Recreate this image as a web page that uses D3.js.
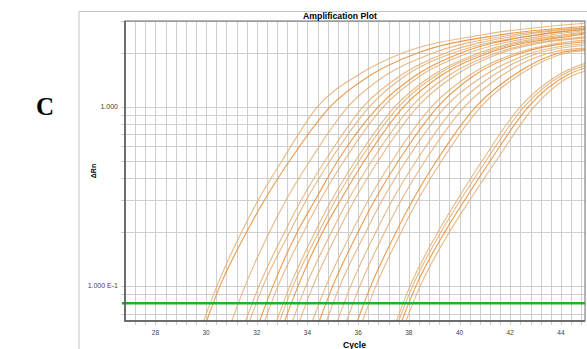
<!DOCTYPE html>
<html>
<head>
<meta charset="utf-8">
<script src="https://cdn.jsdelivr.net/npm/d3@7"></script>
<style>
  body { margin: 0; background: #fff; }
  svg { display: block; }
</style>
</head>
<body>
<div id="chart"></div>
<script>
// delta Rn levels (horizontal gridlines) at which each curve was read
const levels = [0.05, 0.1, 0.2, 0.3, 0.5, 1, 1.5, 2, 2.5];

// cycle at which each curve crosses the levels above, plus its delta Rn at cycle 45
const crossings = [
  [29.63, 30.43, 31.4, 32.05, 33.0, 34.4, 36.0, 37.8, 40.8],
  [29.75, 30.55, 31.6, 32.3, 33.3, 34.9, 36.5, 38.4, 41.5],
  [30.74, 31.54, 32.5, 33.15, 34.1, 35.6, 37.1, 39.0, 42.0],
  [31.29, 32.09, 33.1, 33.75, 34.7, 36.2, 37.7, 39.5, 42.4],
  [31.45, 32.25, 33.3, 33.95, 34.9, 36.45, 37.9, 39.8, 42.9],
  [31.84, 32.64, 33.6, 34.3, 35.2, 36.8, 38.3, 40.1, 43.0],
  [32.04, 32.84, 33.85, 34.5, 35.45, 37.0, 38.5, 40.4, 43.5],
  [32.51, 33.31, 34.3, 34.95, 35.9, 37.45, 38.95, 40.8, 44.0],
  [32.63, 33.43, 34.45, 35.1, 36.05, 37.6, 39.1, 41.0, 44.3],
  [32.83, 33.63, 34.6, 35.3, 36.25, 37.8, 39.3, 41.2, 44.6],
  [33.14, 33.94, 34.95, 35.6, 36.55, 38.1, 39.6, 41.5],
  [33.42, 34.22, 35.2, 35.85, 36.8, 38.35, 39.85, 41.7],
  [33.93, 34.73, 35.75, 36.4, 37.35, 38.9, 40.4, 42.3],
  [34.2, 35.0, 36.0, 36.65, 37.6, 39.15, 40.6, 42.5],
  [34.48, 35.28, 36.3, 36.95, 37.9, 39.45, 41.0, 42.9],
  [34.91, 35.71, 36.7, 37.35, 38.3, 39.85, 41.35, 43.2],
  [35.27, 36.07, 37.05, 37.7, 38.65, 40.2, 41.7, 43.6],
  [35.7, 36.5, 37.5, 38.15, 39.1, 40.65, 42.15, 44.0],
  [35.9, 36.7, 37.7, 38.35, 39.3, 40.85, 42.35, 44.3],
  [37.24, 38.05, 39.15, 39.9, 40.9, 42.4, 43.9],
  [37.32, 38.15, 39.27, 40.03, 41.05, 42.55, 44.05],
  [37.44, 38.28, 39.42, 40.2, 41.22, 42.72, 44.25],
  [37.6, 38.45, 39.6, 40.4, 41.45, 42.95, 44.5]
];
const endValues = [2.92, 2.8, 2.75, 2.75, 2.7, 2.7, 2.65, 2.6, 2.58, 2.55, 2.45, 2.42,
  2.35, 2.3, 2.25, 2.2, 2.12, 2.08, 2.05, 1.75, 1.7, 1.65, 1.58];

const threshold = 0.08;
const xTicks = [28, 30, 32, 34, 36, 38, 40, 42, 44];
const yTicks = [1, 0.1];
const yTickLabels = ['1.000', '1.000 E-1'];
const yGrid = [0.07, 0.08, 0.09, 0.1, 0.2, 0.3, 0.4, 0.5, 0.6, 0.7, 0.8, 0.9, 1, 2, 3];
const xGridStep = 0.4;

const width = 587, height = 349;
const plot = { left: 125, right: 585, top: 21, bottom: 321 };

const svg = d3.select('#chart')
  .append('svg')
  .attr('width', width)
  .attr('height', height);

// outer panel frame
svg.append('path')
  .attr('d', 'M79,349V11.5H587')
  .attr('fill', 'none')
  .attr('stroke', '#c4c4c4')
  .attr('stroke-width', 1);

const x = d3.scaleLinear()
  .domain([26.8, 44.95])
  .range([plot.left, plot.right]);

const y = d3.scaleLog()
  .domain([0.0637, 3])
  .range([plot.bottom, plot.top]);

// gridlines
const xGrid = d3.range(27.2, 44.95, xGridStep);
svg.append('g')
  .selectAll('line')
  .data(xGrid)
  .enter()
  .append('line')
  .attr('x1', d => Math.round(x(d)) + 0.5)
  .attr('x2', d => Math.round(x(d)) + 0.5)
  .attr('y1', plot.top)
  .attr('y2', plot.bottom + 4)
  .attr('stroke', '#cfcfcf');

svg.append('g')
  .selectAll('line')
  .data(yGrid)
  .enter()
  .append('line')
  .attr('x1', plot.left - 4)
  .attr('x2', plot.right)
  .attr('y1', d => Math.round(y(d)) + 0.5)
  .attr('y2', d => Math.round(y(d)) + 0.5)
  .attr('stroke', '#cfcfcf');

// amplification curves
const curves = crossings.map((c, i) => {
  const pts = c.map((cy, j) => [cy, levels[j]]);
  pts.push([45, endValues[i]]);
  return pts;
});

svg.append('clipPath')
  .attr('id', 'clip')
  .append('rect')
  .attr('x', plot.left)
  .attr('y', plot.top)
  .attr('width', plot.right - plot.left)
  .attr('height', plot.bottom - plot.top);

const line = d3.line()
  .x(d => x(d[0]))
  .y(d => y(d[1]))
  .curve(d3.curveMonotoneX);

svg.append('g')
  .attr('clip-path', 'url(#clip)')
  .selectAll('path')
  .data(curves)
  .enter()
  .append('path')
  .attr('d', line)
  .attr('fill', 'none')
  .attr('stroke', (d, i) => i % 4 == 1 ? '#e8892e' : '#e2ad70')
  .attr('stroke-opacity', 0.85)
  .attr('stroke-width', 1.1);

// threshold
svg.append('line')
  .attr('x1', plot.left - 3)
  .attr('x2', plot.right)
  .attr('y1', y(threshold))
  .attr('y2', y(threshold))
  .attr('stroke', '#22b322')
  .attr('stroke-width', 2.5);

// plot border
svg.append('rect')
  .attr('x', plot.left)
  .attr('y', plot.top)
  .attr('width', plot.right - plot.left)
  .attr('height', plot.bottom - plot.top)
  .attr('fill', 'none')
  .attr('stroke', '#6a6a6a')
  .attr('stroke-width', 1);

svg.append('path')
  .attr('d', `M${plot.left},${plot.top}V${plot.bottom}H${plot.right}`)
  .attr('fill', 'none')
  .attr('stroke', '#555')
  .attr('stroke-width', 1.5);

// tick labels
svg.append('g')
  .selectAll('text')
  .data(xTicks)
  .enter()
  .append('text')
  .attr('x', d => x(d))
  .attr('y', 335)
  .attr('text-anchor', 'middle')
  .style('font-family', 'Liberation Sans, Arial, sans-serif')
  .style('font-size', '6.5px')
  .style('fill', '#444')
  .text(d => d);

svg.append('g')
  .selectAll('text')
  .data(yTicks)
  .enter()
  .append('text')
  .attr('x', 118)
  .attr('y', d => y(d) + 2.5)
  .attr('text-anchor', 'end')
  .style('font-family', 'Liberation Sans, Arial, sans-serif')
  .style('font-size', '7px')
  .style('fill', '#444')
  .text((d, i) => yTickLabels[i]);

// titles
svg.append('text')
  .attr('x', 340)
  .attr('y', 19)
  .attr('text-anchor', 'middle')
  .style('font-family', 'Liberation Sans, Arial, sans-serif')
  .style('font-size', '8.7px')
  .style('font-weight', 'bold')
  .text('Amplification Plot');

svg.append('text')
  .attr('x', 354.5)
  .attr('y', 348)
  .attr('text-anchor', 'middle')
  .style('font-family', 'Liberation Sans, Arial, sans-serif')
  .style('font-size', '8.6px')
  .style('font-weight', 'bold')
  .text('Cycle');

svg.append('text')
  .attr('transform', 'translate(96,171) rotate(-90)')
  .attr('text-anchor', 'middle')
  .style('font-family', 'Liberation Sans, Arial, sans-serif')
  .style('font-size', '7px')
  .style('font-weight', 'bold')
  .text('ΔRn');

// panel letter
svg.append('text')
  .attr('x', 45)
  .attr('y', 115)
  .attr('text-anchor', 'middle')
  .style('font-family', 'Liberation Serif, Times New Roman, serif')
  .style('font-size', '25px')
  .style('font-weight', 'bold')
  .text('C');
</script>
</body>
</html>
